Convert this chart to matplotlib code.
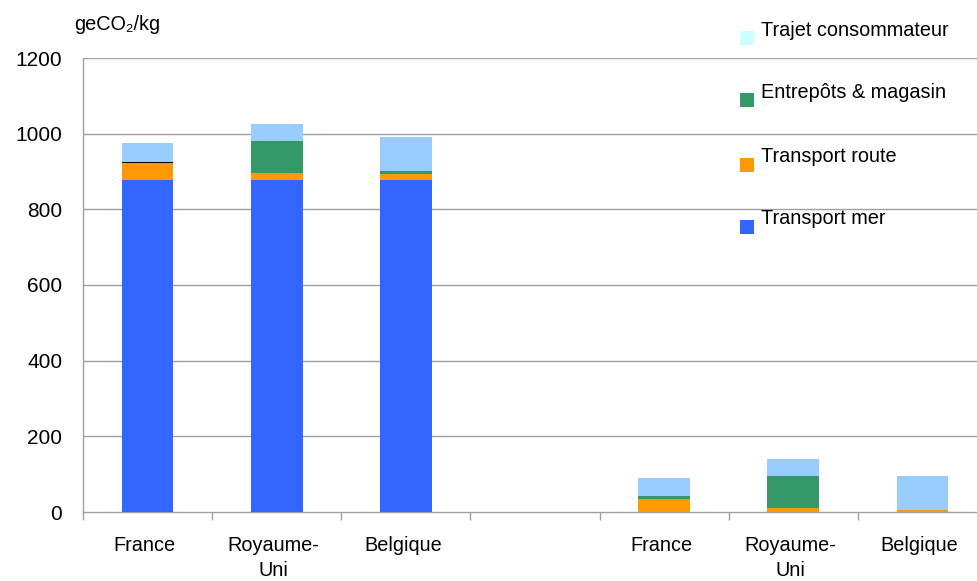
import matplotlib
matplotlib.use("Agg")
import matplotlib.pyplot as plt
import matplotlib.transforms as mtransforms
import numpy as np
from matplotlib.patches import Rectangle

plt.rcParams["font.family"] = ["Liberation Sans", "DejaVu Sans"]

# categories (blank slot separates the two groups)
categories = ["France", "Royaume-\nUni", "Belgique", "", "France", "Royaume-\nUni", "Belgique"]
transport_mer = [877, 877, 877, 0, 0, 0, 0]
transport_route = [45, 18, 16, 0, 34, 10, 6]
autre = [3, 0, 0, 0, 0, 0, 0]
entrepots = [0, 85, 8, 0, 8, 85, 0]
trajet = [50, 45, 90, 0, 48, 45, 90]
yticks = [0, 200, 400, 600, 800, 1000, 1200]

series = [
    ("Transport mer", transport_mer, "#3366FF"),
    ("Transport route", transport_route, "#FF9900"),
    (None, autre, "#000000"),
    ("Entrepôts & magasin", entrepots, "#339966"),
    ("Trajet consommateur", trajet, "#99CCFF"),
]

FS = 14.3

fig = plt.figure(figsize=(9.77, 5.81), dpi=100)
ax = fig.add_axes([83 / 977, 69 / 581, 904 / 977, 454 / 581])

x = np.arange(len(categories))
bottom = np.zeros(len(categories))
for label, vals, color in series:
    vals = np.array(vals, dtype=float)
    mask = vals > 0
    ax.bar(x[mask], vals[mask], width=0.4, bottom=bottom[mask], color=color, linewidth=0, zorder=3)
    bottom += vals

ax.set_xlim(-0.5, len(categories) - 0.5)
ax.set_ylim(0, 1200)
ax.set_yticks(yticks)
ax.set_yticklabels([str(v) for v in yticks], fontsize=FS + 0.7)
ax.tick_params(axis="y", length=0, pad=15)
for v in yticks[1:]:
    ax.axhline(v, color="#A0A0A0", linewidth=1, zorder=1)

ax.set_xticks(x)
ax.set_xticklabels(categories, fontsize=FS, linespacing=1.4, va="top")
ax.tick_params(axis="x", length=0, pad=17)
shift = mtransforms.ScaledTranslation(-3 / 100, 0, fig.dpi_scale_trans)
for lab in ax.get_xticklabels():
    lab.set_transform(lab.get_transform() + shift)
ax.set_xticks(np.arange(len(categories)) - 0.5, minor=True)
ax.tick_params(axis="x", which="minor", length=6, color="#A0A0A0", width=1)

for side in ["top", "right"]:
    ax.spines[side].set_visible(False)
for side in ["left", "bottom"]:
    ax.spines[side].set_color("#A0A0A0")
    ax.spines[side].set_linewidth(1)

fig.text(74 / 977, 1 - 25 / 581, "geCO₂/kg", fontsize=FS, va="center", ha="left")

# legend
legend_items = [
    ("Trajet consommateur", "#CCFFFF", 30),
    ("Entrepôts & magasin", "#339966", 92),
    ("Transport route", "#FF9900", 157),
    ("Transport mer", "#3366FF", 219),
]
for text, color, ty in legend_items:
    fig.patches.append(Rectangle((740 / 977, 1 - (ty + 15) / 581), 14 / 977, 14 / 581,
                                 transform=fig.transFigure, facecolor=color, edgecolor="none"))
    fig.text(761 / 977, 1 - ty / 581, text, fontsize=FS, va="center", ha="left")

fig.savefig("out.png", dpi=100)
